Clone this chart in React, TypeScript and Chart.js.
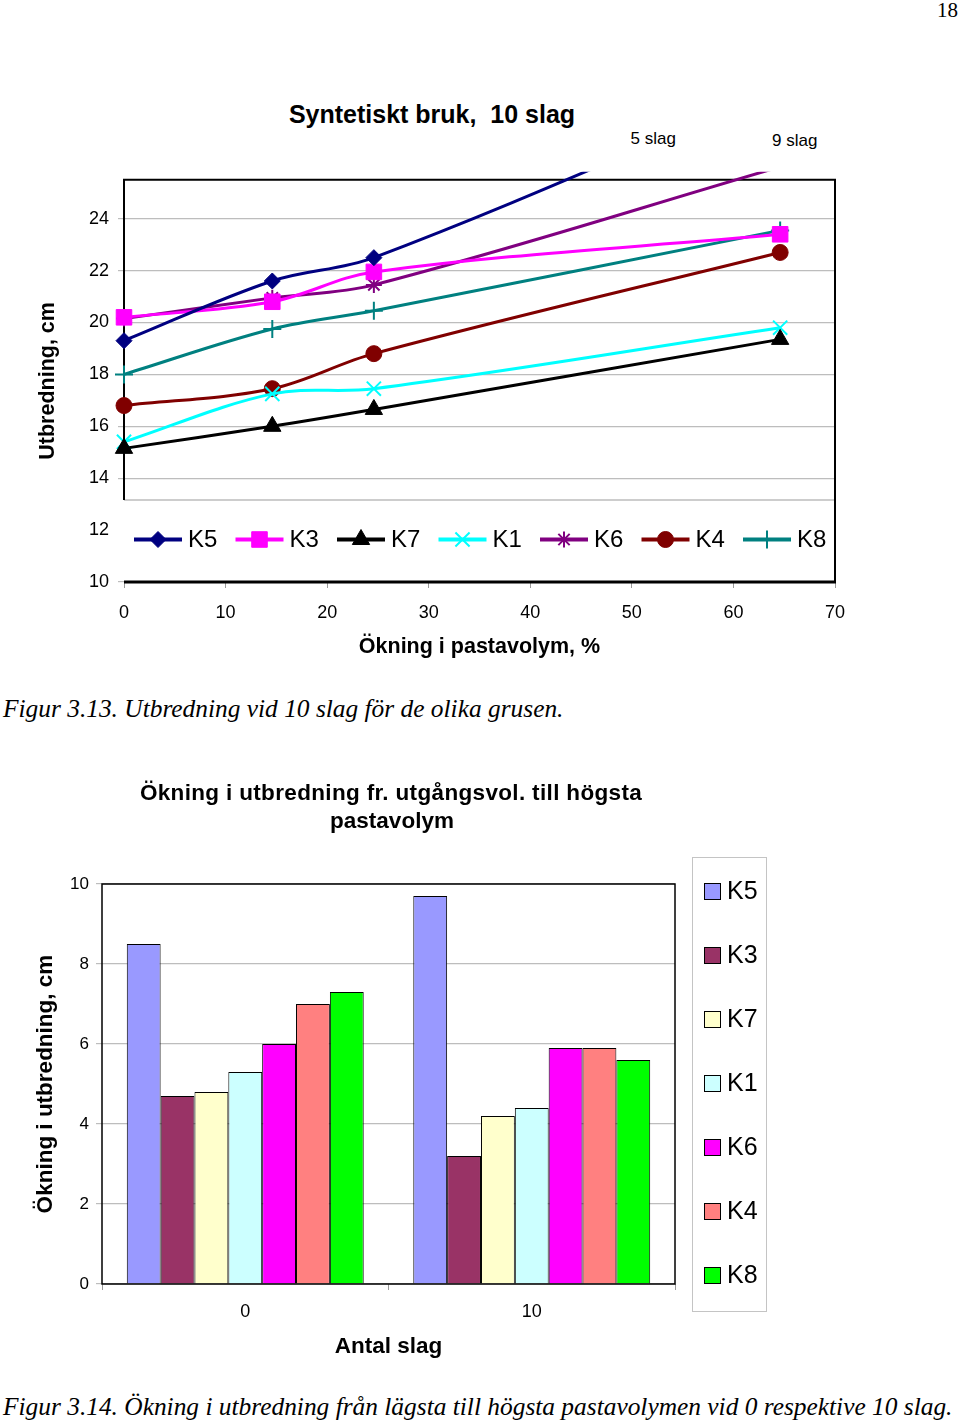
import React, { useEffect, useRef } from 'react';
import { Chart, registerables } from 'chart.js';

Chart.register(...registerables);

const SANS = "'Liberation Sans', Arial, Helvetica, sans-serif";
const SERIF = "'Liberation Serif', 'Times New Roman', serif";

// ---------- Data: top chart (Utbredning vid 10 slag) ----------
const seriesNames = ['K5', 'K3', 'K7', 'K1', 'K6', 'K4', 'K8'];
const pastaVolume = [0, 14.6, 24.6, 64.6];
const k5Line = [19.3, 21.6, 22.5, 29.0];
const k3Line = [20.2, 20.8, 21.95, 23.4];
const k7Line = [15.15, 16.0, 16.65, 19.35];
const k1Line = [15.4, 17.25, 17.45, 19.8];
const k6Line = [20.15, 20.95, 21.45, 26.0];
const k4Line = [16.8, 17.45, 18.8, 22.7];
const k8Line = [18.0, 19.75, 20.45, 23.55];
const lineSeries = [k5Line, k3Line, k7Line, k1Line, k6Line, k4Line, k8Line];
const yTicksTop = [10, 12, 14, 16, 18, 20, 22, 24];

// ---------- Data: bottom chart (Ökning i utbredning) ----------
const slagCategories = ['0', '10'];
const k5Bar = [8.5, 9.7];
const k3Bar = [4.7, 3.2];
const k7Bar = [4.8, 4.2];
const k1Bar = [5.3, 4.4];
const k6Bar = [6.0, 5.9];
const k4Bar = [7.0, 5.9];
const k8Bar = [7.3, 5.6];
const barSeries = [k5Bar, k3Bar, k7Bar, k1Bar, k6Bar, k4Bar, k8Bar];

// ---------- Styles ----------
const lineColors = ['#000080', '#FF00FF', '#000000', '#00FFFF', '#800080', '#800000', '#008080'];
const pointStyles = ['rectRot', 'rect', 'triangle', 'crossRot', 'star', 'circle', 'cross'];
const pointRadii = [8, 11, 10, 10, 8, 8, 9];
const strokeMarkers = ['crossRot', 'star', 'cross'];
const barColors = ['#9999FF', '#993366', '#FFFFCC', '#CCFFFF', '#FF00FF', '#FF8080', '#00FF00'];

const C1_TOP = 160;
const C1_H = 520;
const C2_TOP = 760;
const C2_H = 620;

function drawMarker(ctx: CanvasRenderingContext2D, style: string, x: number, y: number, r: number, color: string) {
  ctx.save();
  ctx.fillStyle = color;
  ctx.strokeStyle = color;
  ctx.lineWidth = strokeMarkers.includes(style) ? 2 : 1;
  ctx.beginPath();
  const d = r * Math.SQRT1_2;
  switch (style) {
    case 'rectRot':
      ctx.moveTo(x, y - r); ctx.lineTo(x + r, y); ctx.lineTo(x, y + r); ctx.lineTo(x - r, y); ctx.closePath();
      ctx.fill(); ctx.stroke();
      break;
    case 'rect':
      ctx.rect(x - d, y - d, 2 * d, 2 * d); ctx.fill(); ctx.stroke();
      break;
    case 'triangle': {
      let a = 0;
      ctx.moveTo(x + Math.sin(a) * r, y - Math.cos(a) * r);
      a += (2 * Math.PI) / 3;
      ctx.lineTo(x + Math.sin(a) * r, y - Math.cos(a) * r);
      a += (2 * Math.PI) / 3;
      ctx.lineTo(x + Math.sin(a) * r, y - Math.cos(a) * r);
      ctx.closePath(); ctx.fill(); ctx.stroke();
      break;
    }
    case 'circle':
      ctx.arc(x, y, r, 0, Math.PI * 2); ctx.fill(); ctx.stroke();
      break;
    case 'crossRot':
      ctx.moveTo(x - d, y - d); ctx.lineTo(x + d, y + d); ctx.moveTo(x + d, y - d); ctx.lineTo(x - d, y + d); ctx.stroke();
      break;
    case 'star':
      ctx.moveTo(x - d, y - d); ctx.lineTo(x + d, y + d); ctx.moveTo(x + d, y - d); ctx.lineTo(x - d, y + d);
      ctx.moveTo(x, y - r); ctx.lineTo(x, y + r); ctx.moveTo(x - r, y); ctx.lineTo(x + r, y); ctx.stroke();
      break;
    case 'cross':
      ctx.moveTo(x, y - r); ctx.lineTo(x, y + r); ctx.moveTo(x - r, y); ctx.lineTo(x + r, y); ctx.stroke();
      break;
  }
  ctx.restore();
}

const topFramePlugin = {
  id: 'topFrame',
  beforeDatasetsDraw(chart: any) {
    const { ctx, chartArea } = chart;
    const { left, right, top, bottom } = chartArea;
    const legTop = 500 - C1_TOP;
    ctx.save();
    // legend box (covers lower part of plot area, like the original)
    ctx.fillStyle = '#ffffff';
    ctx.fillRect(left - 8, legTop, right - left + 7, bottom - 2 - legTop);
    ctx.strokeStyle = '#bdbdbd';
    ctx.lineWidth = 1.5;
    ctx.beginPath(); ctx.moveTo(left, legTop); ctx.lineTo(right, legTop); ctx.stroke();
    // plot border
    ctx.strokeStyle = '#000';
    ctx.lineWidth = 2;
    ctx.beginPath();
    ctx.moveTo(left, legTop); ctx.lineTo(left, top); ctx.lineTo(right, top); ctx.lineTo(right, bottom);
    ctx.stroke();
    ctx.lineWidth = 3;
    ctx.beginPath(); ctx.moveTo(left, bottom); ctx.lineTo(right + 1, bottom); ctx.stroke();
    // legend items
    const ly = 539.5 - C1_TOP;
    ctx.font = `24px ${SANS}`;
    ctx.textBaseline = 'middle';
    ctx.textAlign = 'left';
    seriesNames.forEach((name, i) => {
      const x0 = 134 + 101.5 * i;
      ctx.strokeStyle = lineColors[i];
      ctx.lineWidth = 4;
      ctx.beginPath(); ctx.moveTo(x0, ly); ctx.lineTo(x0 + 48, ly); ctx.stroke();
      drawMarker(ctx, pointStyles[i], x0 + 24, ly, pointRadii[i], lineColors[i]);
      ctx.fillStyle = '#000';
      ctx.fillText(name, x0 + 54, ly + 1);
    });
    ctx.restore();
  },
};

const bottomFramePlugin = {
  id: 'bottomFrame',
  afterDatasetsDraw(chart: any) {
    const { ctx, chartArea } = chart;
    const { left, right, top, bottom } = chartArea;
    ctx.save();
    ctx.strokeStyle = '#000';
    ctx.lineWidth = 1.5;
    ctx.strokeRect(left, top, right - left, bottom - top);
    // legend
    ctx.strokeStyle = '#c4c4c4';
    ctx.lineWidth = 1;
    ctx.strokeRect(692.5, 857.5 - C2_TOP, 74, 454);
    ctx.font = `25px ${SANS}`;
    ctx.textBaseline = 'middle';
    ctx.textAlign = 'left';
    seriesNames.forEach((name, i) => {
      const cy = 891.5 - C2_TOP + 64 * i;
      ctx.fillStyle = barColors[i];
      ctx.fillRect(704.5, cy - 8, 16, 16);
      ctx.strokeStyle = '#000';
      ctx.lineWidth = 1;
      ctx.strokeRect(704.5, cy - 8, 16, 16);
      ctx.fillStyle = '#000';
      ctx.fillText(name, 727, cy + 1);
    });
    ctx.restore();
  },
};

function Txt(props: { x: number; base: number; size: number; bold?: boolean; italic?: boolean; serif?: boolean; align?: string; spacing?: number; children: any }) {
  const { x, base, size, bold, italic, serif, align, spacing, children } = props;
  const asc = serif ? 0.8375 : 0.8465;
  const style: any = {
    position: 'absolute',
    top: base - asc * size,
    fontSize: size,
    lineHeight: `${size}px`,
    fontFamily: serif ? SERIF : SANS,
    fontWeight: bold ? 'bold' : 'normal',
    fontStyle: italic ? 'italic' : 'normal',
    whiteSpace: 'pre',
    color: '#000',
    margin: 0,
    letterSpacing: spacing ? `${spacing}px` : 'normal',
  };
  if (align === 'center') {
    style.left = x - 500; style.width = 1000; style.textAlign = 'center';
  } else if (align === 'right') {
    style.left = x - 1000; style.width = 1000; style.textAlign = 'right';
  } else {
    style.left = x;
  }
  return <div style={style}>{children}</div>;
}

export default function App() {
  const c1 = useRef<HTMLCanvasElement | null>(null);
  const c2 = useRef<HTMLCanvasElement | null>(null);

  useEffect(() => {
    const tickFont = { family: SANS, size: 18 };
    const chart1 = new Chart(c1.current as HTMLCanvasElement, {
      type: 'line',
      data: {
        datasets: seriesNames.map((name, i) => ({
          label: name,
          data: pastaVolume.map((x, j) => ({ x, y: lineSeries[i][j] })),
          borderColor: lineColors[i],
          backgroundColor: lineColors[i],
          borderWidth: 3,
          tension: 0.35,
          pointStyle: pointStyles[i] as any,
          pointRadius: pointRadii[i],
          pointBackgroundColor: lineColors[i],
          pointBorderColor: lineColors[i],
          pointBorderWidth: strokeMarkers.includes(pointStyles[i]) ? 2 : 1,
          clip: { left: 20, right: 20, top: 8, bottom: 20 } as any,
        })),
      },
      options: {
        animation: false,
        responsive: false,
        events: [],
        layout: { padding: { left: 31, right: 125, top: 18, bottom: 16 } },
        plugins: { legend: { display: false }, tooltip: { enabled: false } },
        scales: {
          x: {
            type: 'linear',
            min: 0,
            max: 70,
            ticks: { stepSize: 10, font: tickFont, color: '#000', padding: 14, maxRotation: 0, autoSkip: false },
            grid: { drawOnChartArea: false, tickLength: 6, color: '#999' },
            border: { display: false },
            title: { display: true, text: 'Ökning i pastavolym, %', color: '#000', font: { family: SANS, size: 21.5, weight: 'bold' }, padding: { top: 4, bottom: 4 } },
            afterFit: (s: any) => { s.height = 82; },
          },
          y: {
            type: 'linear',
            min: 10,
            max: 25.5,
            ticks: { stepSize: 2, font: tickFont, color: '#000', padding: 9 },
            grid: { color: '#bdbdbd', tickLength: 6, lineWidth: 1.2 },
            border: { display: false },
            afterBuildTicks: (s: any) => { s.ticks = yTicksTop.map((v) => ({ value: v })); },
            title: { display: true, text: 'Utbredning, cm', color: '#000', font: { family: SANS, size: 21.5, weight: 'bold' }, padding: { top: 4, bottom: 4 } },
            afterFit: (s: any) => { s.width = 93; },
          },
        },
      } as any,
      plugins: [topFramePlugin],
    });

    const chart2 = new Chart(c2.current as HTMLCanvasElement, {
      type: 'bar',
      data: {
        labels: slagCategories,
        datasets: seriesNames.map((name, i) => ({
          label: name,
          data: barSeries[i],
          backgroundColor: barColors[i],
          borderColor: '#000',
          borderWidth: 1,
          barPercentage: 1,
          categoryPercentage: 0.827,
        })),
      },
      options: {
        animation: false,
        responsive: false,
        events: [],
        layout: { padding: { left: 28.5, right: 285, top: 124, bottom: 15.5 } },
        plugins: { legend: { display: false }, tooltip: { enabled: false } },
        scales: {
          x: {
            ticks: { font: { family: SANS, size: 18 }, color: '#000', padding: 11, maxRotation: 0 },
            grid: { drawOnChartArea: false, tickLength: 6, color: '#999', offset: true },
            border: { display: false },
            title: { display: true, text: 'Antal slag', color: '#000', font: { family: SANS, size: 22.5, weight: 'bold' }, padding: { top: 4, bottom: 4 } },
            afterFit: (s: any) => { s.height = 80.5; },
          },
          y: {
            min: 0,
            max: 10,
            ticks: { stepSize: 2, font: { family: SANS, size: 17 }, color: '#000', padding: 7 },
            grid: { color: '#bdbdbd', tickLength: 6, lineWidth: 1.2 },
            border: { display: false },
            title: { display: true, text: 'Ökning i utbredning, cm', color: '#000', font: { family: SANS, size: 22.5, weight: 'bold' }, padding: { top: 4, bottom: 4 } },
            afterFit: (s: any) => { s.width = 73.5; },
          },
        },
      } as any,
      plugins: [bottomFramePlugin],
    });

    return () => {
      chart1.destroy();
      chart2.destroy();
    };
  }, []);

  return (
    <div style={{ position: 'absolute', left: 0, top: 0, width: 960, height: 1422, background: '#fff', overflow: 'hidden' }}>
      <canvas ref={c1} width={960} height={C1_H} style={{ position: 'absolute', left: 0, top: C1_TOP }} />
      <canvas ref={c2} width={960} height={C2_H} style={{ position: 'absolute', left: 0, top: C2_TOP }} />
      <Txt x={958} base={17.5} size={21} serif align="right">18</Txt>
      <Txt x={432} base={123} size={25} bold align="center">{'Syntetiskt bruk,  10 slag'}</Txt>
      <Txt x={630.5} base={144} size={17}>5 slag</Txt>
      <Txt x={772} base={146} size={17}>9 slag</Txt>
      <Txt x={3} base={717} size={25.4} serif italic>Figur 3.13. Utbredning vid 10 slag för de olika grusen.</Txt>
      <Txt x={391} base={801} size={22.5} bold align="center" spacing={0.34}>Ökning i utbredning fr. utgångsvol. till högsta</Txt>
      <Txt x={392} base={829} size={22.5} bold align="center">pastavolym</Txt>
      <Txt x={3} base={1415} size={25.4} serif italic>Figur 3.14. Ökning i utbredning från lägsta till högsta pastavolymen vid 0 respektive 10 slag.</Txt>
    </div>
  );
}
